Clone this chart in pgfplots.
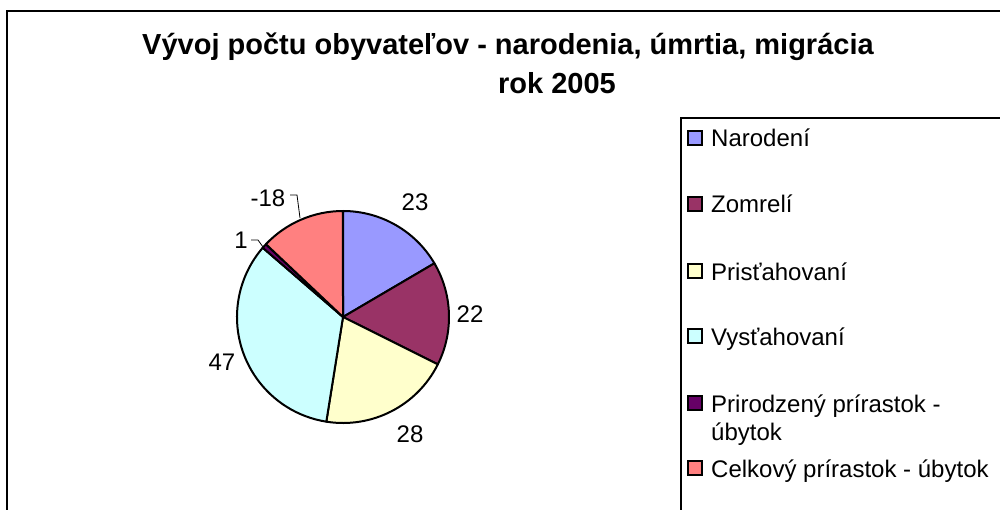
\documentclass[border=0pt]{standalone}
\usepackage{pgfplots}
\usepackage{pgfplotstable}
\usepackage{fontspec}
\setmainfont{Liberation Sans}
\pgfplotsset{compat=1.18}
\definecolor{pc0}{HTML}{9999FF}
\definecolor{pc1}{HTML}{993366}
\definecolor{pc2}{HTML}{FFFFCC}
\definecolor{pc3}{HTML}{CCFFFF}
\definecolor{pc4}{HTML}{660066}
\definecolor{pc5}{HTML}{FF8080}
\pgfplotstableread{
idx value
0 23
1 22
2 28
3 47
4 1
5 -18
}\piedata
\begin{document}
\begin{tikzpicture}
\useasboundingbox (0,0) rectangle (1000pt,510pt);
\clip (0,0) rectangle (1000pt,510pt);
\def\pietotal{0}
\pgfplotsforeachungrouped \i in {0,...,5}{%
  \pgfplotstablegetelem{\i}{value}\of\piedata
  \pgfmathsetmacro\v{abs(\pgfplotsretval)}%
  \expandafter\xdef\csname pieV\i\endcsname{\v}%
  \pgfmathsetmacro\pietotal{\pietotal+\v}%
}
\def\cur{90}
\pgfplotsforeachungrouped \i in {0,...,5}{%
  \pgfmathsetmacro\pfr{\csname pieV\i\endcsname/\pietotal}%
  \pgfmathsetmacro\nxt{\cur-360*\pfr}%
  \expandafter\xdef\csname pieS\i\endcsname{\cur}%
  \expandafter\xdef\csname pieE\i\endcsname{\nxt}%
  \let\cur\nxt
}
\begin{axis}[at={(0,0)}, anchor=south west, scale only axis,
  width=1000pt, height=510pt, xmin=0, xmax=1000, ymin=0, ymax=510,
  y dir=reverse, hide axis, clip=false]
% outer frame
\draw[black, line width=1.2pt] (axis cs:7,540) -- (axis cs:7,11) -- (axis cs:1020,11);
% pie
\pgfplotsinvokeforeach{0,...,5}{%
  \edef\temp{\noexpand\filldraw[fill=pc#1, draw=black, line width=2pt, line join=round]
    (axis cs:343,317) -- ++(\csname pieS#1\endcsname:106pt)
    arc[start angle=\csname pieS#1\endcsname, end angle=\csname pieE#1\endcsname, radius=106pt] -- cycle;}%
  \temp
}
% data labels
\begin{scope}[every node/.style={inner sep=0pt, font=\fontsize{24}{28}\selectfont}]
\node at (axis cs:415,202) {23};
\node at (axis cs:470,314) {22};
\node at (axis cs:410,434) {28};
\node at (axis cs:222,362) {47};
\node at (axis cs:241,240) {1};
\node at (axis cs:268,198) {-18};
\end{scope}
\draw[black, line width=0.8pt] (axis cs:290,195) -- (axis cs:297,195) -- (axis cs:300,218);
\draw[black, line width=0.8pt] (axis cs:251,240) -- (axis cs:258,240) -- (axis cs:263,247);
% title
\node[anchor=base west, inner sep=0pt, font=\fontsize{29}{34}\selectfont\bfseries] at (axis cs:142,55) {Vývoj počtu obyvateľov - narodenia, úmrtia, migrácia};
\node[anchor=base west, inner sep=0pt, font=\fontsize{29}{34}\selectfont\bfseries] at (axis cs:498,94) {rok 2005};
% legend
\draw[black, line width=1.2pt] (axis cs:681,540) -- (axis cs:681,118) -- (axis cs:1020,118);
\begin{scope}[every node/.style={anchor=base west, inner sep=0pt, font=\fontsize{24}{28}\selectfont}]
\filldraw[fill=pc0, draw=black, line width=2pt] (axis cs:688,131) rectangle (axis cs:702,145);
\node at (axis cs:711,147) {Narodení};
\filldraw[fill=pc1, draw=black, line width=2pt] (axis cs:688,197) rectangle (axis cs:702,211);
\node at (axis cs:711,213) {Zomrelí};
\filldraw[fill=pc2, draw=black, line width=2pt] (axis cs:688,264) rectangle (axis cs:702,278);
\node at (axis cs:711,280) {Prisťahovaní};
\filldraw[fill=pc3, draw=black, line width=2pt] (axis cs:688,329) rectangle (axis cs:702,343);
\node at (axis cs:711,345) {Vysťahovaní};
\filldraw[fill=pc4, draw=black, line width=2pt] (axis cs:688,396) rectangle (axis cs:702,410);
\node at (axis cs:711,412) {Prirodzený prírastok -};
\node at (axis cs:711,440) {úbytok};
\filldraw[fill=pc5, draw=black, line width=2pt] (axis cs:688,461) rectangle (axis cs:702,475);
\node at (axis cs:711,477) {Celkový prírastok - úbytok};
\end{scope}
\end{axis}
\end{tikzpicture}
\end{document}
